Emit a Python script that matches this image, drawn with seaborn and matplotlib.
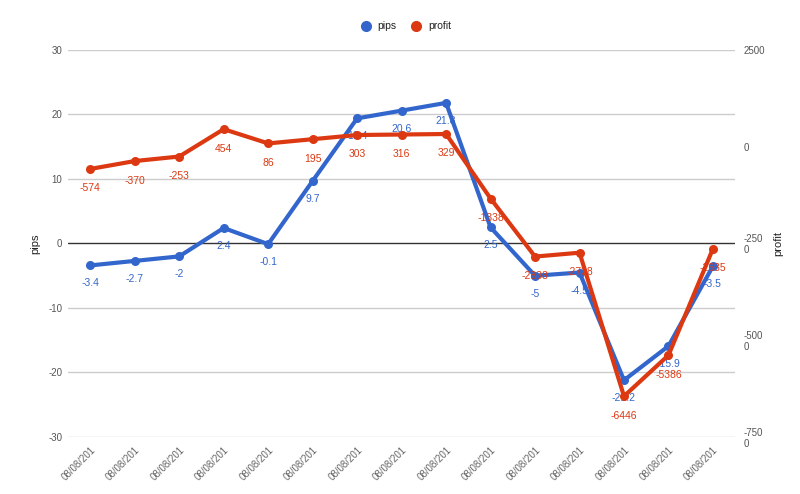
import matplotlib
matplotlib.use("Agg")
import matplotlib.pyplot as plt
import seaborn as sns
import pandas as pd
from matplotlib.lines import Line2D

categories = ["08/08/201"] * 15
pips = [-3.4, -2.7, -2, 2.4, -0.1, 9.7, 19.4, 20.6, 21.8, 2.5, -5, -4.5, -21.2, -15.9, -3.5]
profit = [-574, -370, -253, 454, 86, 195, 303, 316, 329, -1338, -2838, -2738, -6446, -5386, -2635]
left_ticks = [30, 20, 10, 0, -10, -20, -30]
right_ticks = [2500, 0, -2500, -5000, -7500]
right_tick_labels = ["2500", "0", "-250\n0", "-500\n0", "-750\n0"]

BLUE = "#3366cc"
RED = "#dc3912"

df = pd.DataFrame({"idx": range(len(categories)), "pips": pips, "profit": profit})

sns.set_theme(style="white")
plt.rcParams["font.family"] = ["Arial", "Liberation Sans", "DejaVu Sans"]

fig = plt.figure(figsize=(8, 4.94), dpi=100)
ax = fig.add_axes([0.085, 0.1154, 0.834, 0.7834])
ax2 = ax.twinx()
ax2.patch.set_visible(False)

for t in left_ticks:
    ax.axhline(t, color="#333333" if t == 0 else "#cccccc", lw=1, zorder=1)

sns.lineplot(data=df, x="idx", y="pips", ax=ax, color=BLUE, lw=3, marker="o",
             markersize=6.5, markeredgewidth=0, zorder=3)
sns.lineplot(data=df, x="idx", y="profit", ax=ax2, color=RED, lw=3, marker="o",
             markersize=6.5, markeredgewidth=0, zorder=3)

ax.set_xlim(-0.5, len(categories) - 0.5)
ax.set_ylim(-30, 30)
ax2.set_ylim(-7500, 2500)

ax.set_yticks(left_ticks)
ax.set_yticklabels([str(t) for t in left_ticks])
ax2.set_yticks(right_ticks)
ax2.set_yticklabels(right_tick_labels, linespacing=1.1)

ax.set_xticks(range(len(categories)))
ax.set_xticklabels(categories, rotation=45, ha="right", rotation_mode="anchor")

for a in (ax, ax2):
    for s in a.spines.values():
        s.set_visible(False)
    a.tick_params(axis="both", length=0, labelsize=7, colors="#555555", pad=4)
ax2.tick_params(axis="y", pad=6)
ax.tick_params(axis="x", pad=6, colors="#666666")

ax.set_xlabel("")
ax.set_ylabel("pips", fontsize=8, color="#222222", labelpad=6)
ax2.set_ylabel("profit", fontsize=8, color="#222222", labelpad=6)

for i, v in enumerate(pips):
    ax.annotate(f"{v:g}", (i, v), xytext=(0, -13), textcoords="offset points",
                ha="center", va="center", fontsize=7.5, color=BLUE, zorder=2)
for i, v in enumerate(profit):
    ax2.annotate(f"{v:g}", (i, v), xytext=(0, -14), textcoords="offset points",
                 ha="center", va="center", fontsize=7.5, color=RED, zorder=2)

handles = [Line2D([], [], marker="o", ls="", color=BLUE, markersize=7),
           Line2D([], [], marker="o", ls="", color=RED, markersize=7)]
fig.legend(handles, ["pips", "profit"], loc="center", bbox_to_anchor=(0.504, 0.947),
           ncol=2, frameon=False, fontsize=7.5, handletextpad=0.1, columnspacing=0.9,
           labelcolor="#222222")

fig.savefig("out.png", dpi=100)
